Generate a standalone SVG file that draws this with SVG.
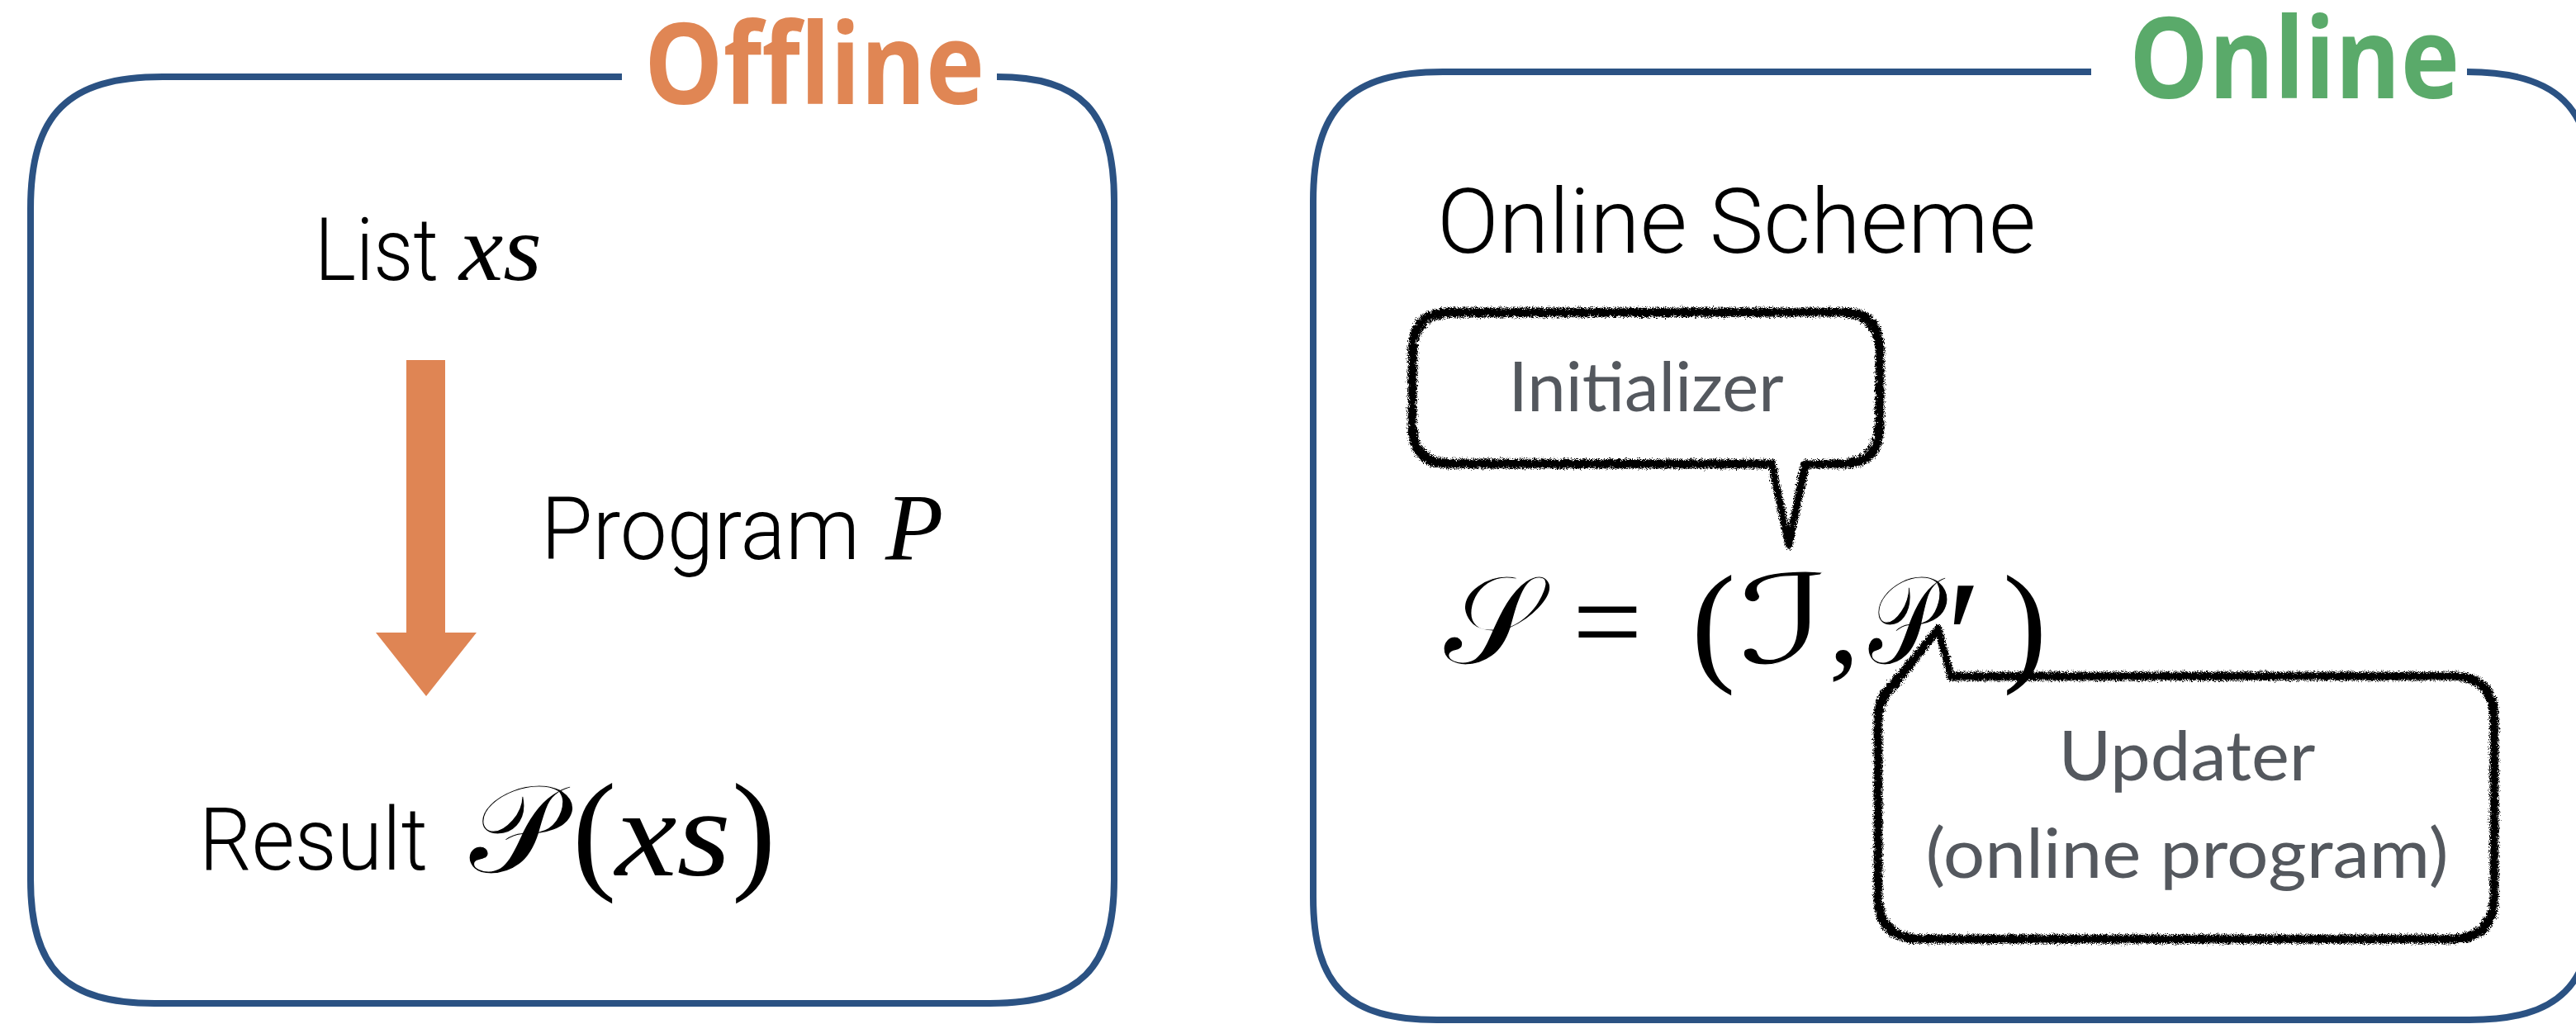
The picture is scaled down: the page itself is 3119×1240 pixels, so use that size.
<svg xmlns="http://www.w3.org/2000/svg" width="3119" height="1240" viewBox="0 0 3119 1240">
  <defs>
    <style>
      .frame { fill: none; stroke: #2B5283; stroke-width: 8; stroke-linecap: butt; }
      .title { font-family: "Open Sans", "Noto Sans", sans-serif; font-weight: 700; font-size: 136px; }
      .label { font-family: Roboto, "Noto Sans", sans-serif; font-weight: 300; fill: #000; }
      .note { font-family: Lato, "Open Sans", sans-serif; font-size: 84px; fill: #54585E; text-anchor: middle; }
      .math { font-family: "Liberation Serif", "DejaVu Serif", serif; fill: #000; }
      .mathit { font-family: "Liberation Serif", "DejaVu Serif", serif; font-style: italic; fill: #000; }
      .script { font-family: "DejaVu Serif", "DejaVu Sans", "Noto Sans", serif; fill: #000; stroke: #fff; stroke-width: 1.2; }
      .prime { font-family: "Liberation Serif", "DejaVu Serif", serif; fill: #000; }
      .bubble { fill: none; stroke: #000; stroke-width: 9; stroke-linejoin: round; }
      .bubble-thin { fill: none; stroke: #000; stroke-width: 3; stroke-linejoin: round; stroke-dasharray: 14 3 6 2; }
    </style>
    <filter id="rough" x="-5%" y="-10%" width="110%" height="120%">
      <feTurbulence type="fractalNoise" baseFrequency="1.1" numOctaves="2" seed="4" result="noise"/>
      <feDisplacementMap in="SourceGraphic" in2="noise" scale="9" xChannelSelector="R" yChannelSelector="G"/>
    </filter>
  </defs>

  <rect width="3119" height="1240" fill="#fff"/>

  <!-- Offline panel -->
  <g id="offline-panel">
    <path class="frame" d="M753,93 L197,93 C82,93 37,138 37,253 L37,1065 C37,1173 79,1215 187,1215 L1199,1215 C1307,1215 1349,1173 1349,1065 L1349,243 C1349,135 1309,93 1207,93"/>
    <text class="title" x="780" y="126" fill="#E08654" textLength="412" lengthAdjust="spacingAndGlyphs">Offline</text>
  </g>

  <g id="list-node">
    <text class="label" x="381" y="339" font-size="106" textLength="150" lengthAdjust="spacingAndGlyphs">List</text>
    <text class="mathit" x="556" y="339" font-size="114" textLength="100" lengthAdjust="spacingAndGlyphs">xs</text>
  </g>

  <g id="program-label">
    <text class="label" x="655" y="677" font-size="106" textLength="386" lengthAdjust="spacingAndGlyphs">Program</text>
    <text class="mathit" x="1072" y="677" font-size="115">P</text>
  </g>

  <g id="result-node">
    <text class="label" x="241" y="1053" font-size="106" textLength="277" lengthAdjust="spacingAndGlyphs">Result</text>
    <text class="script" x="568" y="1056" font-size="150" textLength="110" lengthAdjust="spacingAndGlyphs">𝒫</text>
    <text class="math" x="693" y="1060" font-size="160">(</text>
    <text class="mathit" x="745" y="1060" font-size="150" textLength="140" lengthAdjust="spacingAndGlyphs">xs</text>
    <text class="math" x="886" y="1060" font-size="160">)</text>
  </g>

  <!-- Online panel -->
  <g id="online-panel">
    <path class="frame" d="M2532,87 L1747,87 C1634,87 1590,131 1590,244 L1590,1086 C1590,1194 1632,1235 1740,1235 L2990,1235 C3098,1235 3140,1194 3140,1086 L3140,237 C3140,129 3095,87 2987,87"/>
    <text class="title" x="2578" y="119" fill="#5AAA6A" textLength="400" lengthAdjust="spacingAndGlyphs">Online</text>
  </g>

  <g id="scheme-title">
    <text class="label" x="1740" y="306" font-size="109" textLength="725" lengthAdjust="spacingAndGlyphs">Online Scheme</text>
  </g>

  <g id="scheme-equation">
    <text class="script" x="1748" y="803" font-size="150">𝒮</text>
    <text class="math" x="1904" y="803" font-size="150">=</text>
    <text class="math" x="2048" y="808" font-size="160">(</text>
    <text class="script" transform="translate(2104,803) scale(1.6,1)" x="0" y="0" font-size="150" font-style="italic">ℐ</text>
    <text class="math" x="2214" y="803" font-size="150">,</text>
    <text class="script" x="2262" y="803" font-size="150" textLength="84" lengthAdjust="spacingAndGlyphs">𝒫</text>
    <text class="prime" x="2356" y="840" font-size="200">′</text>
    <text class="math" x="2425" y="808" font-size="160">)</text>
  </g>

  <g id="connectors">
    <!-- offline transformation arrow -->
    <polygon points="492,436 539,436 539,766 577,766 516,843 455,766 492,766" fill="#DF8554"/>
  </g>

  <!-- Initializer callout -->
  <g id="initializer-note">
    <g filter="url(#rough)">
      <path class="bubble" d="M1757,378 L2229,378 Q2276,378 2276,425 L2276,515 Q2276,562 2229,562 L2186,562 L2166,660 L2145,562 L1757,562 Q1710,562 1710,515 L1710,425 Q1710,378 1757,378 Z"/>
      <path class="bubble-thin" d="M1760,383 L2226,382 Q2271,383 2272,427 L2271,512 Q2270,557 2226,558 L2182,559 L2165,652 L2148,558 L1760,557 Q1715,558 1714,513 L1715,427 Q1715,383 1760,383 Z"/>
      <path class="bubble-thin" d="M1755,374 L2232,374 Q2280,374 2280,423 L2280,517 Q2280,566 2231,566 L2189,566 L2167,664 L2143,566 L1755,566 Q1706,566 1706,517 L1706,423 Q1706,374 1755,374 Z"/>
    </g>
    <text class="note" x="1993" y="498" textLength="333" lengthAdjust="spacingAndGlyphs">Initializer</text>
  </g>

  <!-- Updater callout -->
  <g id="updater-note">
    <g filter="url(#rough)">
      <path class="bubble" d="M2362,819 L2968,819 Q3020,819 3020,871 L3020,1085 Q3020,1137 2968,1137 L2326,1137 Q2274,1137 2274,1085 L2274,871 Q2274,845 2292,829 L2347,762 Z"/>
      <path class="bubble-thin" d="M2360,823 L2965,822 Q3016,823 3016,873 L3016,1083 Q3015,1133 2966,1133 L2328,1133 Q2278,1133 2278,1083 L2278,873 Q2279,849 2296,833 L2346,768 Z"/>
      <path class="bubble-thin" d="M2364,815 L2970,815 Q3024,815 3024,869 L3024,1087 Q3024,1141 2969,1141 L2324,1141 Q2270,1141 2270,1087 L2270,869 Q2270,842 2289,826 L2347,756 Z"/>
    </g>
    <text class="note" x="2648" y="945" textLength="311" lengthAdjust="spacingAndGlyphs">Updater</text>
    <text class="note" x="2648" y="1063" textLength="633" lengthAdjust="spacingAndGlyphs">(online program)</text>
  </g>
</svg>
